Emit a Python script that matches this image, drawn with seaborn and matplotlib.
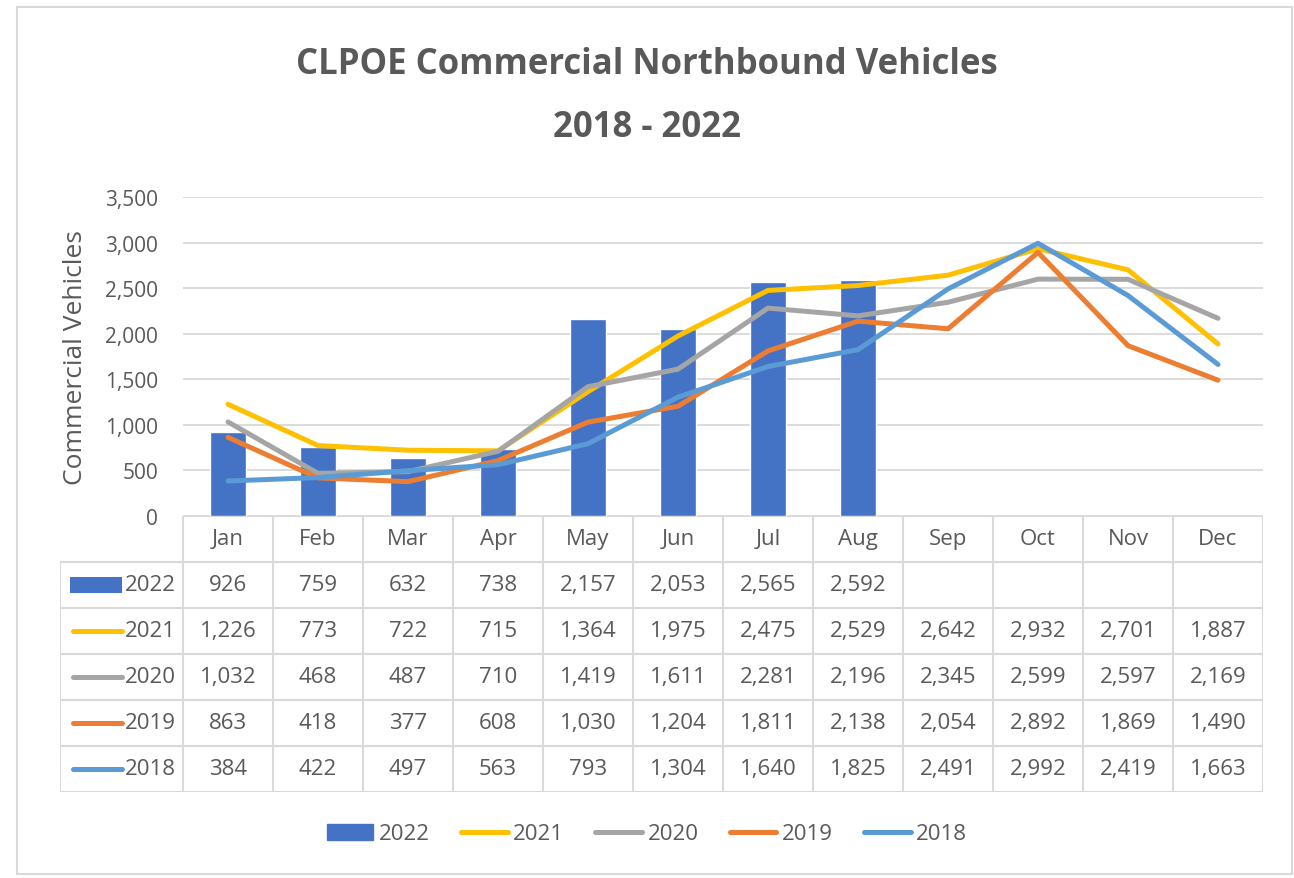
import numpy as np
import pandas as pd
import matplotlib
matplotlib.use("Agg")
import matplotlib.pyplot as plt
from matplotlib.patches import Patch, Rectangle
from matplotlib.lines import Line2D
import seaborn as sns

# -------------------------
# Data
# -------------------------
months = ["Jan", "Feb", "Mar", "Apr", "May", "Jun", "Jul", "Aug", "Sep", "Oct", "Nov", "Dec"]
v2022 = [926, 759, 632, 738, 2157, 2053, 2565, 2592]
v2021 = [1226, 773, 722, 715, 1364, 1975, 2475, 2529, 2642, 2932, 2701, 1887]
v2020 = [1032, 468, 487, 710, 1419, 1611, 2281, 2196, 2345, 2599, 2597, 2169]
v2019 = [863, 418, 377, 608, 1030, 1204, 1811, 2138, 2054, 2892, 1869, 1490]
v2018 = [384, 422, 497, 563, 793, 1304, 1640, 1825, 2491, 2992, 2419, 1663]
line_years = ["2021", "2020", "2019", "2018"]
y_ticks = [0, 500, 1000, 1500, 2000, 2500, 3000, 3500]

# -------------------------
# Styling
# -------------------------
colors = {"2022": "#4472C4", "2021": "#FFC000", "2020": "#A5A5A5",
          "2019": "#ED7D31", "2018": "#5B9BD5"}
TEXT = "#595959"
GRID = "#D9D9D9"

sns.set_style("white")
plt.rcParams["font.family"] = ["Open Sans", "DejaVu Sans"]

W, H = 1294, 879
fig = plt.figure(figsize=(W / 100, H / 100), dpi=100)


def fx(px):
    return px / W


def fy(py):
    return 1 - py / H


# outer chart border
fig.patches.append(Rectangle((fx(17), fy(875)), fx(1292) - fx(17), fy(8) - fy(875),
                             transform=fig.transFigure, fill=False,
                             edgecolor=GRID, lw=1.5))

# -------------------------
# Main plot
# -------------------------
ax = fig.add_axes([fx(183), fy(517), fx(1263) - fx(183), fy(198) - fy(517)])

bar_df = pd.DataFrame({"month": months[:len(v2022)], "value": v2022})
sns.barplot(data=bar_df, x="month", y="value", order=months,
            color=colors["2022"], saturation=1, width=0.39, ax=ax)

series = {"2021": v2021, "2020": v2020, "2019": v2019, "2018": v2018}
line_df = pd.DataFrame([
    {"pos": i, "value": v, "year": yr}
    for yr in line_years for i, v in enumerate(series[yr])
])
sns.lineplot(data=line_df, x="pos", y="value", hue="year", hue_order=line_years,
             palette=colors, lw=3.6, ax=ax, legend=False,
             solid_capstyle="round", solid_joinstyle="round")

ax.set_xlim(-0.5, 11.5)
ax.set_ylim(0, 3500)
ax.set_yticks(y_ticks)
ax.set_yticklabels([f"{t:,}" for t in y_ticks], fontsize=15, color=TEXT)
ax.tick_params(axis="y", length=0, pad=18)
ax.set_xticks([])
ax.set_xlabel("")
ax.set_ylabel("Commercial Vehicles", fontsize=19, color=TEXT, labelpad=12)
ax.grid(axis="y", color=GRID, lw=1.3)
ax.set_axisbelow(True)
for s in ["top", "right", "left", "bottom"]:
    ax.spines[s].set_visible(False)

fig.text(0.5, fy(65), "CLPOE Commercial Northbound Vehicles", ha="center", va="center",
         fontsize=25, fontweight="bold", color=TEXT)
fig.text(0.5, fy(128), "2018 - 2022", ha="center", va="center",
         fontsize=25, fontweight="bold", color=TEXT)

# -------------------------
# Data table
# -------------------------
label_w = (183 - 60) / 90.0
tax = fig.add_axes([fx(60), fy(793), fx(1263) - fx(60), fy(517) - fy(793)])
tax.set_xlim(-0.5 - label_w, 11.5)
tax.set_ylim(6, 0)
tax.axis("off")

# horizontal lines
tax.hlines(0, -0.5, 11.5, color=GRID, lw=1.5)
for r in range(1, 7):
    tax.hlines(r, -0.5 - label_w, 11.5, color=GRID, lw=1.5)
# vertical lines
for c in range(13):
    tax.vlines(c - 0.5, 0, 6, color=GRID, lw=1.5)
tax.vlines(-0.5 - label_w, 1, 6, color=GRID, lw=1.5)

for i, m in enumerate(months):
    tax.text(i, 0.5, m, ha="center", va="center", fontsize=16, color=TEXT)

table_rows = [("2022", v2022), ("2021", v2021), ("2020", v2020),
              ("2019", v2019), ("2018", v2018)]
for r, (yr, vals) in enumerate(table_rows, start=1):
    for i, v in enumerate(vals):
        tax.text(i, r + 0.5, f"{v:,}", ha="center", va="center", fontsize=16, color=TEXT)
    key_l = -0.5 - label_w + 10 / 90
    key_r = key_l + 52 / 90
    if yr == "2022":
        tax.add_patch(Rectangle((key_l, r + 0.5 - 0.18), key_r - key_l, 0.36,
                                color=colors[yr], lw=0))
    else:
        tax.plot([key_l + 0.03, key_r], [r + 0.5, r + 0.5], color=colors[yr],
                 lw=3.6, solid_capstyle="round")
    tax.text(key_r + 3 / 90, r + 0.5, yr, ha="left", va="center", fontsize=16, color=TEXT)

# -------------------------
# Legend
# -------------------------
handles = [Patch(color=colors["2022"], label="2022")] + [
    Line2D([0], [0], color=colors[y], lw=3.6, solid_capstyle="round", label=y)
    for y in line_years
]
fig.legend(handles=handles, loc="center", bbox_to_anchor=(0.5, fy(835)), ncol=5,
           frameon=False, fontsize=16, labelcolor=TEXT, handlelength=2.1,
           handletextpad=0.25, columnspacing=1.4)

fig.savefig("out.png", dpi=100)
